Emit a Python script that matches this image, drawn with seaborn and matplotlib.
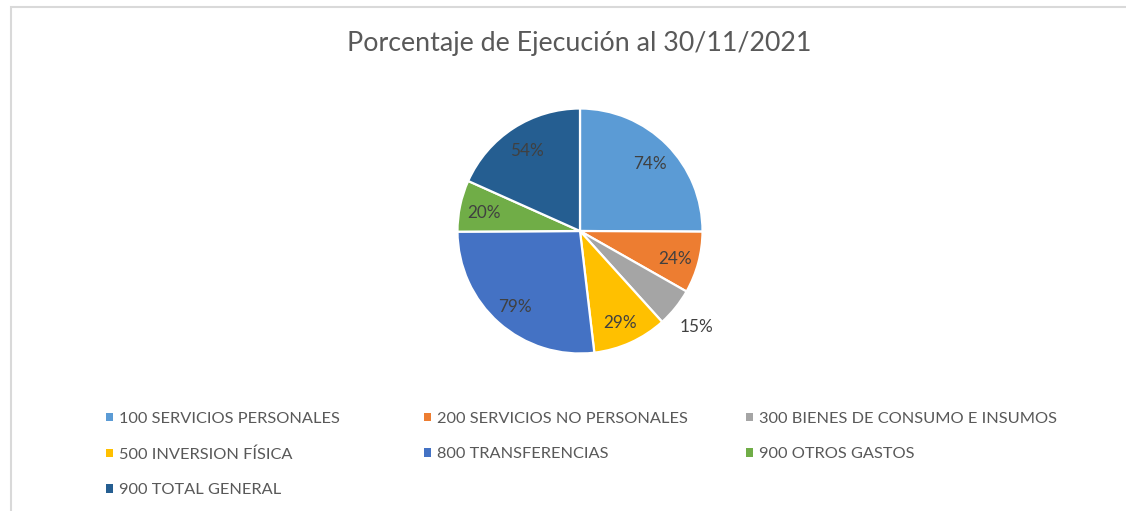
import matplotlib
matplotlib.use("Agg")
import matplotlib.pyplot as plt
import matplotlib.patches as mpatches
import numpy as np
import seaborn as sns

# Data
categories = [
    "100 SERVICIOS PERSONALES",
    "200 SERVICIOS NO PERSONALES",
    "300 BIENES DE CONSUMO E INSUMOS",
    "500 INVERSION FÍSICA",
    "800 TRANSFERENCIAS",
    "900 OTROS GASTOS",
    "900 TOTAL GENERAL",
]
values = [74, 24, 15, 29, 79, 20, 54]
colors = ["#5B9BD5", "#ED7D31", "#A5A5A5", "#FFC000", "#4472C4", "#70AD47", "#255E91"]

sns.set_style("white")
plt.rcParams['font.family'] = ['Lato', 'DejaVu Sans']
palette = sns.color_palette(colors)
text_gray = '#595959'

W, H = 1126, 511
fig = plt.figure(figsize=(W / 100, H / 100), dpi=100)

# Chart area frame
fig.patches.append(mpatches.Rectangle((10.5 / W, -0.1), 1.2, (H - 6.5) / H + 0.1,
                                      transform=fig.transFigure, fill=False,
                                      edgecolor='#d9d9d9', linewidth=1.5))

fig.text(579 / W, 1 - 44 / H, "Porcentaje de Ejecución al 30/11/2021",
         ha='center', va='center', fontsize=19.3, color=text_gray)

# Pie axes
cx, cy, r = 580, 231, 122.5
ax = fig.add_axes([(cx - r) / W, (H - cy - r) / H, 2 * r / W, 2 * r / H])
wedges, _ = ax.pie(values, colors=palette, startangle=90, counterclock=False,
                   wedgeprops={'edgecolor': 'white', 'linewidth': 1.6})
ax.set_xlim(-1, 1)
ax.set_ylim(-1, 1)
ax.set_aspect('equal')

# Value labels
for w, v in zip(wedges, values):
    mid = np.deg2rad((w.theta1 + w.theta2) / 2)
    dist = 1.22 if v == min(values) else 0.8
    ax.text(dist * np.cos(mid), dist * np.sin(mid) - 0.02, f"{v}%",
            ha='center', va='center', fontsize=12.3, color='#404040')

# Legend: three equal-width columns, row-major order
handles = [mpatches.Patch(facecolor=c, edgecolor='none') for c in palette]
col_x = [106, 424, 746]
for j, x in enumerate(col_x):
    idx = list(range(j, len(categories), 3))
    leg = fig.legend([handles[i] for i in idx], [categories[i] for i in idx],
                     loc='upper left', bbox_to_anchor=(x / W, 1 - 412 / H),
                     frameon=False, fontsize=11.8, handlelength=0.42, handleheight=0.42,
                     handletextpad=0.35, labelspacing=1.3, borderaxespad=0,
                     borderpad=0)
    for t in leg.get_texts():
        t.set_color(text_gray)

plt.savefig("out.png", dpi=100)
plt.close()
